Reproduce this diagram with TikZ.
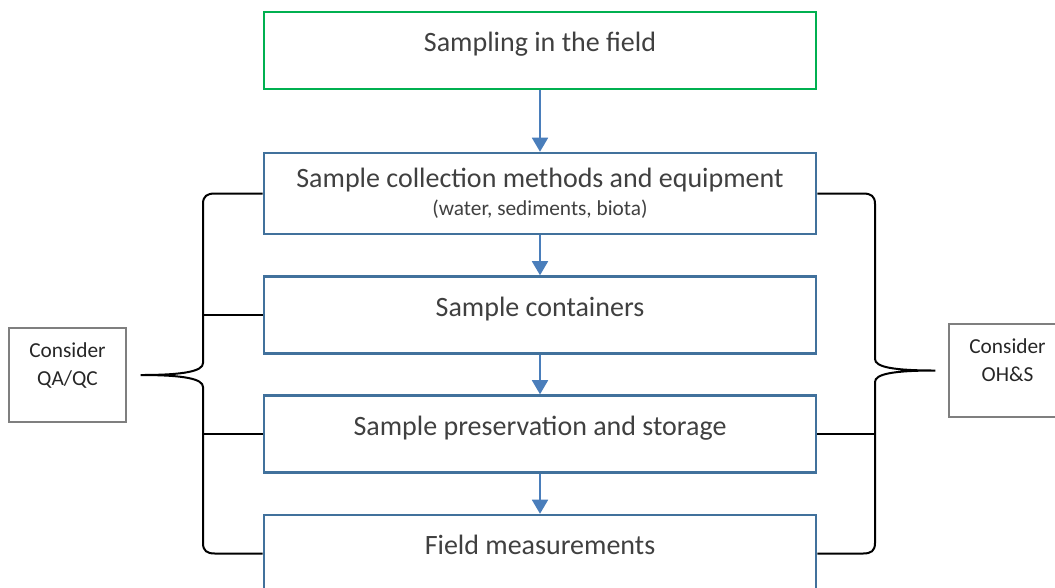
\documentclass[tikz,border=0pt]{standalone}
\usepackage{fontspec}
\setmainfont{Carlito}
\usepackage{tikz}
\usetikzlibrary{arrows.meta}
\definecolor{stageblue}{HTML}{41719C}
\definecolor{flowblue}{HTML}{4A7EBB}
\definecolor{fieldgreen}{HTML}{00B050}
\definecolor{stagetext}{HTML}{404040}
\definecolor{sidegrey}{HTML}{7F7F7F}

\begin{document}
\begin{tikzpicture}[x=0.75pt,y=-0.75pt,
  stage/.style={draw=stageblue,line width=1.9pt,minimum width=414pt,minimum height=57.75pt,
    text=stagetext,font=\fontsize{21}{25}\selectfont,align=center},
  raised/.style={text height=15pt,text depth=13.5pt},
  sidebox/.style={draw=sidegrey,line width=1pt,minimum width=87.75pt,minimum height=70.5pt,
    text=black!85,font=\fontsize{16}{21}\selectfont,align=center,text depth=16pt},
  flow/.style={draw=flowblue,line width=1.3pt,-{Triangle[width=12pt,length=10.5pt]}},
  brace/.style={draw=black,line width=1.5pt},
  tie/.style={draw=black,line width=1.1pt}]
\useasboundingbox (0,0) rectangle (1055,587);

\node[stage,raised,draw=fieldgreen,line width=1.6pt] (field) at (540,50.5) {Sampling in the field};
\node[stage,minimum height=60.75pt] (collect) at (540,193.5)
  {Sample collection methods and equipment\\[-4pt]{\fontsize{16}{19}\selectfont (water, sediments, biota)}};
\node[stage,raised] (contain) at (540,315) {Sample containers};
\node[stage,raised] (preserve) at (540,434) {Sample preservation and storage};
\node[stage,raised] (measure) at (540,553.5) {Field measurements};

\node[sidebox] (qaqc) at (67.5,375) {Consider\\QA/QC};
\node[sidebox,minimum height=69.75pt] (ohs) at (1007.5,370.5) {Consider\\OH\&S};

\foreach \a/\b in {field/collect,collect/contain,contain/preserve,preserve/measure}
  \draw[flow] (\a) -- (\b);

\coordinate (qatip) at ([xshift=10.5pt]qaqc.east);
\coordinate (ohtip) at ([xshift=-9.75pt]ohs.west);
\coordinate (lspine) at (203,0);
\coordinate (rspine) at (875,0);

\draw[brace] (collect.west) -- (215,193.5) .. controls (207,193.5) and (203,196) .. (203,204)
  -- (203,363) .. controls (203,371) and (185,375) .. (qatip)
  .. controls (185,375) and (203,379) .. (203,387)
  -- (203,543) .. controls (203,551) and (207,553.5) .. (215,553.5) -- (measure.west);
\draw[brace] (collect.east) -- (863,193.5) .. controls (871,193.5) and (875,196) .. (875,204)
  -- (875,359) .. controls (875,367) and (893,370.5) .. (ohtip)
  .. controls (893,370.5) and (875,374) .. (875,382)
  -- (875,543) .. controls (875,551) and (871,553.5) .. (863,553.5) -- (measure.east);

\draw[tie] (lspine |- contain.west) -- (contain.west);
\draw[tie] (lspine |- preserve.west) -- (preserve.west);
\draw[tie] (rspine |- preserve.east) -- (preserve.east);
\end{tikzpicture}
\end{document}
